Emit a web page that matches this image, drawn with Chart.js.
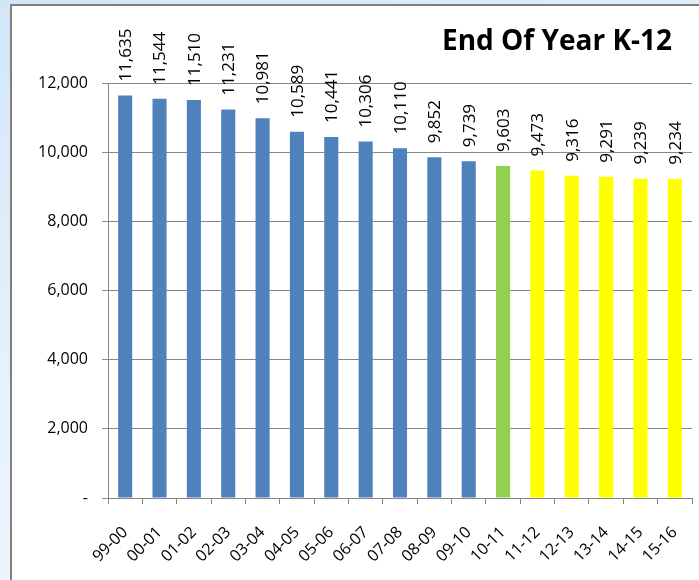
<!DOCTYPE html>
<html>
<head>
<meta charset="utf-8">
<script src="https://cdn.jsdelivr.net/npm/chart.js@4/dist/chart.umd.min.js"></script>
<style>
  html, body { margin: 0; padding: 0; }
  body {
    width: 699px; height: 580px; overflow: hidden; position: relative;
    background: linear-gradient(160deg, #d3e6f7 0%, #e6f1fb 45%, #f4f9fd 100%);
  }
  #box {
    position: absolute; left: 10px; top: 4px; width: 689px; height: 576px;
    background: #fff; border-left: 2px solid #808080; border-top: 2px solid #808080;
  }
  #box canvas { position: absolute; left: 0; top: 0; }
</style>
</head>
<body>
<div id="box"><canvas id="chart" width="687" height="574"></canvas></div>
<script>
// school years
const years = ['99-00', '00-01', '01-02', '02-03', '03-04', '04-05', '05-06', '06-07', '07-08',
  '08-09', '09-10', '10-11', '11-12', '12-13', '13-14', '14-15', '15-16']
// end of year enrollment K-12
const enrollment = [11635, 11544, 11510, 11231, 10981, 10589, 10441, 10306, 10110,
  9852, 9739, 9603, 9473, 9316, 9291, 9239, 9234]
// actual / current / projected
const kinds = ['actual', 'actual', 'actual', 'actual', 'actual', 'actual', 'actual', 'actual', 'actual',
  'actual', 'actual', 'current', 'projected', 'projected', 'projected', 'projected', 'projected']
const yTicks = [0, 2000, 4000, 6000, 8000, 10000, 12000]
const chartTitle = 'End Of Year K-12'

const kindColors = {actual: '#4f81bd', current: '#92d050', projected: '#ffff00'}
const gridColor = '#878787'
const fontFamily = '"Open Sans", "Liberation Sans", sans-serif'

const fmt = (v) => v.toLocaleString('en-US')

// value labels above each bar, rotated
const barLabels = {
    id: 'barLabels',
    afterDatasetsDraw(chart) {
        const ctx = chart.ctx
        const meta = chart.getDatasetMeta(0)
        ctx.save()
        ctx.fillStyle = '#000'
        ctx.font = '17px ' + fontFamily
        ctx.textAlign = 'left'
        ctx.textBaseline = 'middle'
        meta.data.forEach((bar, i) => {
            ctx.save()
            ctx.translate(bar.x + 1, bar.y - 14)
            ctx.rotate(-Math.PI / 2)
            ctx.fillText(fmt(enrollment[i]), 0, 0)
            ctx.restore()
        })
        ctx.restore()
    }
}

// title drawn at the top right
const cornerTitle = {
    id: 'cornerTitle',
    afterDraw(chart) {
        const ctx = chart.ctx
        ctx.save()
        ctx.fillStyle = '#000'
        ctx.font = 'bold 28px ' + fontFamily
        ctx.textAlign = 'right'
        ctx.textBaseline = 'middle'
        ctx.fillText(chartTitle, chart.chartArea.right - 20, 36)
        ctx.restore()
    }
}

new Chart(document.getElementById('chart'), {
    type: 'bar',
    data: {
        labels: years,
        datasets: [{
            data: enrollment,
            backgroundColor: kinds.map(k => kindColors[k]),
            barPercentage: 0.41,
            categoryPercentage: 1,
        }]
    },
    options: {
        responsive: false,
        animation: false,
        layout: {padding: {top: 77, right: 7, left: 0, bottom: 0}},
        plugins: {
            legend: {display: false},
            tooltip: {enabled: false},
        },
        scales: {
            x: {
                grid: {
                    offset: true,
                    drawOnChartArea: false,
                    drawTicks: true,
                    tickLength: 6,
                    color: gridColor,
                },
                border: {color: gridColor, width: 1},
                ticks: {
                    color: '#000',
                    font: {family: fontFamily, size: 16},
                    minRotation: 45,
                    maxRotation: 45,
                    padding: 19,
                    autoSkip: false,
                },
                afterFit: (scale) => {
                    scale.height = 574 - 492
                    scale.paddingLeft = 0
                    scale.paddingRight = 0
                }
            },
            y: {
                min: 0,
                max: 12000,
                afterBuildTicks: (scale) => { scale.ticks = yTicks.map(v => ({value: v})) },
                grid: {
                    color: gridColor,
                    tickLength: 6,
                },
                border: {color: gridColor, width: 1},
                ticks: {
                    color: '#000',
                    font: {family: fontFamily, size: 16},
                    padding: 14,
                    callback: (v) => v === 0 ? '-' : fmt(v),
                },
                afterFit: (scale) => { scale.width = 96 }
            }
        }
    },
    plugins: [barLabels, cornerTitle]
})
</script>
</body>
</html>
